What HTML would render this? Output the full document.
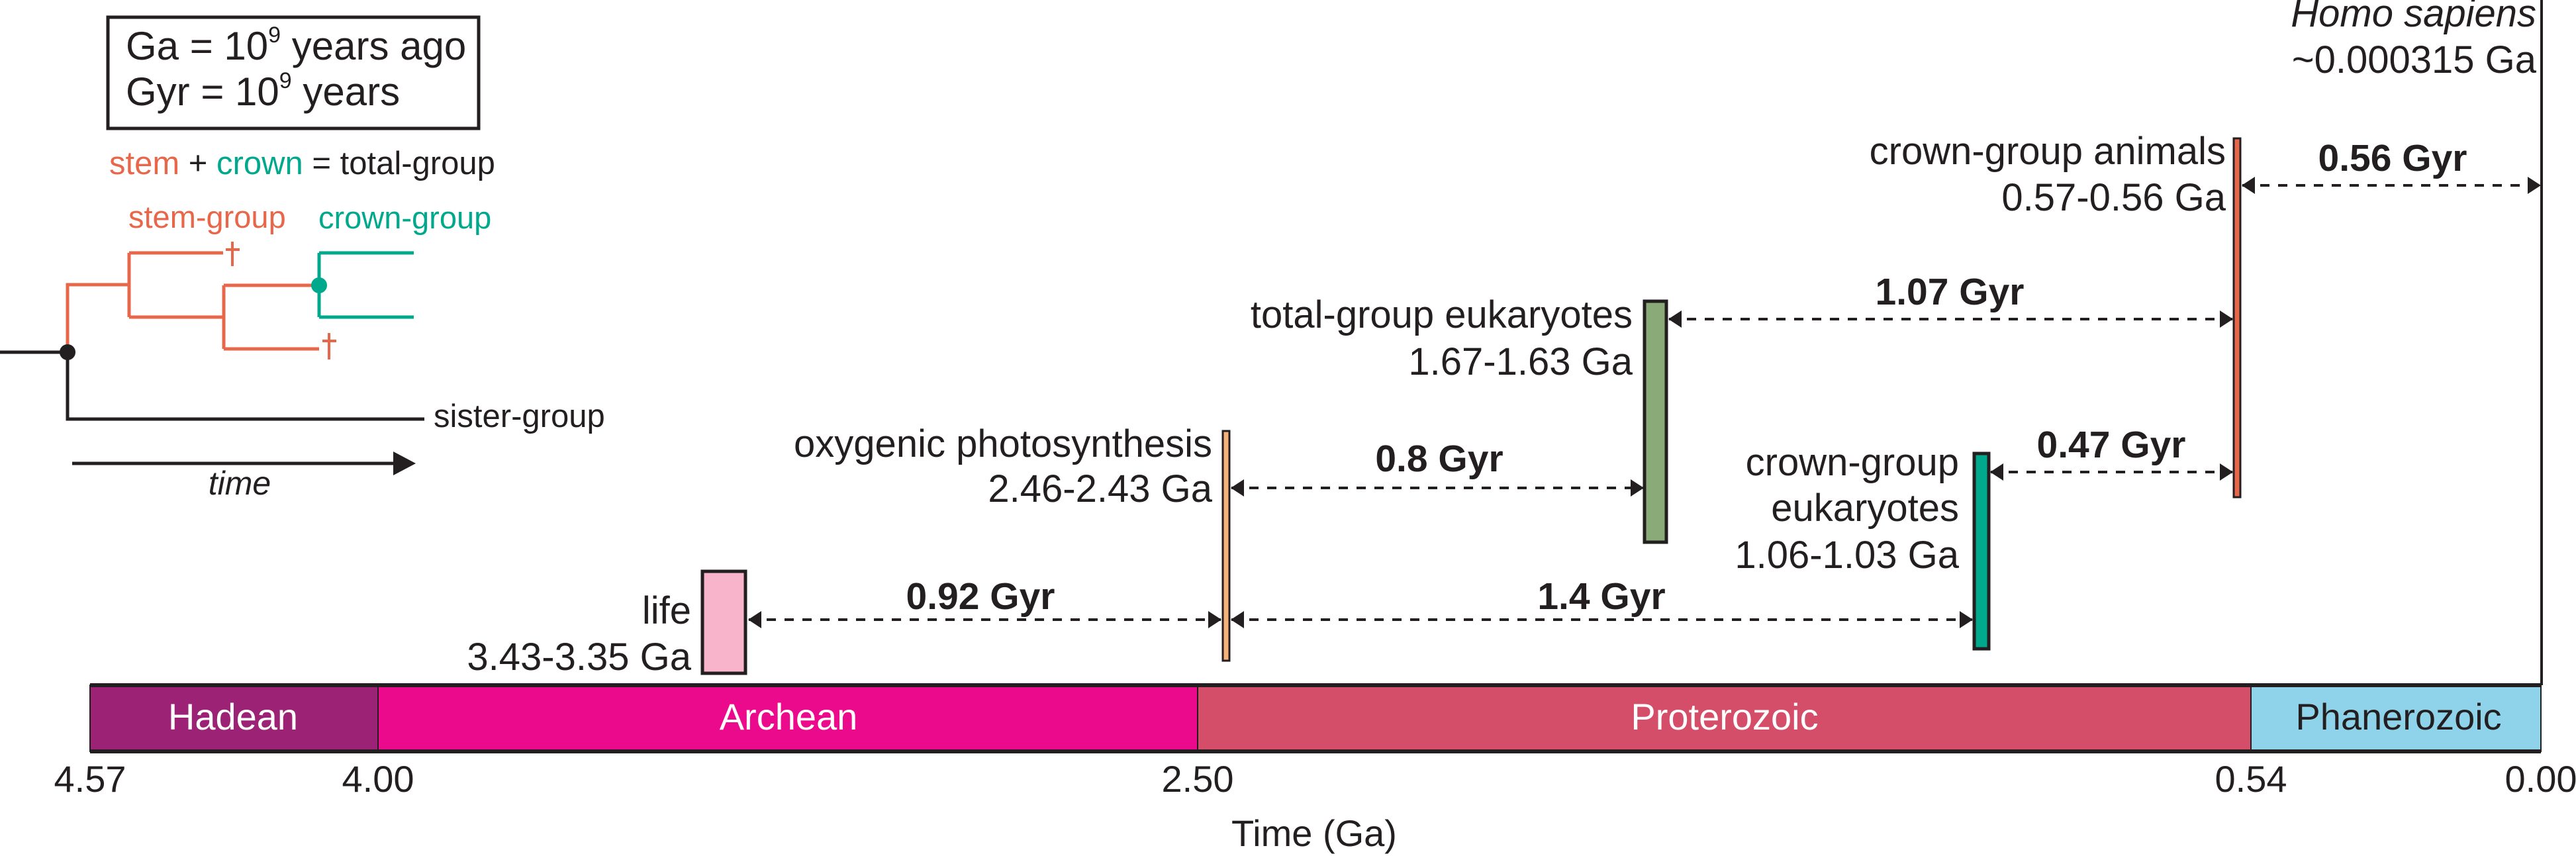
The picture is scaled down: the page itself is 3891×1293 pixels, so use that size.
<!DOCTYPE html>
<html><head><meta charset="utf-8"><style>
html,body{margin:0;padding:0;background:#fff;}
svg{display:block;}
text{font-family:"Liberation Sans",Arial,sans-serif;fill:#231f20;}
</style></head><body>
<svg width="3891" height="1293" viewBox="0 0 3891 1293" xmlns="http://www.w3.org/2000/svg">
<defs>
<marker id="ah" viewBox="0 0 20 26" refX="19" refY="13" markerWidth="20" markerHeight="26" markerUnits="userSpaceOnUse" orient="auto-start-reverse">
<path d="M0,0 L20,13 L0,26 z" fill="#231f20"/>
</marker>
</defs>

<!-- legend box -->
<rect x="163" y="26" width="560" height="168" fill="none" stroke="#231f20" stroke-width="5"/>
<text x="190" y="90" font-size="60">Ga  = 10<tspan font-size="34" dy="-26">9</tspan><tspan dy="26"> years ago</tspan></text>
<text x="190" y="159" font-size="60">Gyr = 10<tspan font-size="34" dy="-26">9</tspan><tspan dy="26"> years</tspan></text>

<text x="165" y="263" font-size="49"><tspan style="fill:#e8674a">stem</tspan> + <tspan style="fill:#00a88c">crown</tspan> = total-group</text>
<text x="194" y="344" font-size="47" style="fill:#e8674a">stem-group</text>
<text x="481" y="345" font-size="47" style="fill:#00a88c">crown-group</text>

<!-- tree -->
<g fill="none" stroke-width="5">
<path d="M0,532 H102" stroke="#231f20"/>
<path d="M102,532 V633 H641" stroke="#231f20"/>
<path d="M102,532 V430 H195 M195,382 V479 M195,382 H337 M195,479 H338 M338,431 V527 M338,431 H482 M338,527 H482" stroke="#e8674a"/>
<path d="M482,382 V479 M482,382 H625 M482,479 H625" stroke="#00a88c"/>
<path d="M351,365 V402 M341,377 H362 M497,503 V543 M487,515 H508" stroke="#e8674a" stroke-width="4"/>
</g>
<circle cx="102" cy="532" r="12" fill="#231f20"/>
<circle cx="482" cy="431" r="12" fill="#00a88c"/>
<text x="655" y="645" font-size="49">sister-group</text>
<path d="M109,700 H598" stroke="#231f20" stroke-width="5"/>
<path d="M594,682 L628,700 L594,718 z" fill="#231f20"/>
<text x="362" y="747" font-size="50" font-style="italic" text-anchor="middle">time</text>

<!-- right vertical line -->
<path d="M3839,0 V1035" stroke="#231f20" stroke-width="4"/>

<!-- bars -->
<rect x="1061" y="863" width="65" height="154" fill="#f7b4cb" stroke="#231f20" stroke-width="5"/>
<rect x="1847" y="651" width="10" height="347" fill="#f5b27a" stroke="#231f20" stroke-width="3"/>
<rect x="2484" y="455" width="33" height="364" fill="#8aab78" stroke="#231f20" stroke-width="5"/>
<rect x="2982" y="685" width="22" height="295" fill="#00a88c" stroke="#231f20" stroke-width="5"/>
<rect x="3374" y="209" width="10" height="542" fill="#e8674a" stroke="#231f20" stroke-width="3"/>

<!-- labels -->
<g font-size="58" text-anchor="end">
<text x="3831" y="40" font-style="italic">Homo sapiens</text>
<text x="3831" y="110">~0.000315 Ga</text>
<text x="3362" y="248">crown-group animals</text>
<text x="3362" y="318">0.57-0.56 Ga</text>
<text x="2466" y="495">total-group eukaryotes</text>
<text x="2466" y="566">1.67-1.63 Ga</text>
<text x="2959" y="718">crown-group</text>
<text x="2959" y="787">eukaryotes</text>
<text x="2959" y="858">1.06-1.03 Ga</text>
<text x="1831" y="690">oxygenic photosynthesis</text>
<text x="1831" y="758">2.46-2.43 Ga</text>
<text x="1044" y="942">life</text>
<text x="1044" y="1012">3.43-3.35 Ga</text>
</g>

<!-- dashed arrows -->
<g stroke="#231f20" stroke-width="4" stroke-dasharray="14 13" fill="none" marker-start="url(#ah)" marker-end="url(#ah)">
<path d="M1131,936 H1844"/>
<path d="M1860,936 H2979"/>
<path d="M1860,737 H2482"/>
<path d="M2521,482 H3372"/>
<path d="M3007,713 H3372"/>
<path d="M3387,280 H3837"/>
</g>
<g font-size="57" font-weight="bold" text-anchor="middle">
<text x="1481" y="920">0.92 Gyr</text>
<text x="2419" y="920">1.4 Gyr</text>
<text x="2174" y="712">0.8 Gyr</text>
<text x="2945" y="460">1.07 Gyr</text>
<text x="3189" y="691">0.47 Gyr</text>
<text x="3614" y="258">0.56 Gyr</text>
</g>

<!-- timeline bar -->
<rect x="136" y="1035" width="435" height="100" fill="#9b2275"/>
<rect x="571" y="1035" width="1238" height="100" fill="#ec0a8c"/>
<rect x="1809" y="1035" width="1591" height="100" fill="#d44e69"/>
<rect x="3400" y="1035" width="438" height="100" fill="#8fd3ea"/>
<path d="M571,1035 V1135 M1809,1035 V1135 M3400,1035 V1135" stroke="#231f20" stroke-width="2"/>
<rect x="136" y="1035" width="3702" height="100" fill="none" stroke="#231f20" stroke-width="2"/>
<path d="M136,1035 H3838 M136,1135 H3838" stroke="#231f20" stroke-width="6"/>
<g font-size="56" text-anchor="middle">
<text x="352" y="1102" style="fill:#fff">Hadean</text>
<text x="1191" y="1102" style="fill:#fff">Archean</text>
<text x="2605" y="1102" style="fill:#fff">Proterozoic</text>
<text x="3623" y="1102">Phanerozoic</text>
<text x="136" y="1196">4.57</text>
<text x="571" y="1196">4.00</text>
<text x="1809" y="1196">2.50</text>
<text x="3400" y="1196">0.54</text>
<text x="3838" y="1196">0.00</text>
<text x="1985" y="1278">Time (Ga)</text>
</g>
</svg>
</body></html>
